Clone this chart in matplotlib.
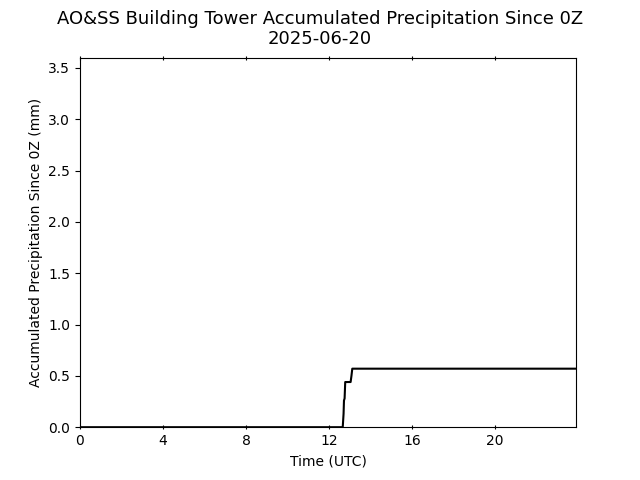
import matplotlib
matplotlib.use("Agg")
import matplotlib.pyplot as plt

# hours since 0Z and accumulated precipitation (mm)
hours = [0.0, 12.66, 12.70, 12.72, 12.75, 12.78, 12.82, 13.04, 13.08, 13.12, 23.9]
precip = [0.0, 0.0, 0.13, 0.26, 0.28, 0.44, 0.44, 0.44, 0.50, 0.57, 0.57]
xticks = [0, 4, 8, 12, 16, 20]

fig, ax = plt.subplots(figsize=(6.4, 4.8), dpi=100)
ax.plot(hours, precip, color="black")
ax.set_xlim(0, 23.9)
ax.set_ylim(0, 3.6)
ax.set_xticks(xticks)
ax.tick_params(axis="x", top=True, direction="inout")
ax.set_xlabel("Time (UTC)")
ax.set_ylabel("Accumulated Precipitation Since 0Z (mm)")
fig.suptitle("AO&SS Building Tower Accumulated Precipitation Since 0Z\n2025-06-20", fontsize=13)
fig.subplots_adjust(left=0.125, right=0.9, bottom=0.11, top=0.88)
fig.savefig("out.png", dpi=100)
